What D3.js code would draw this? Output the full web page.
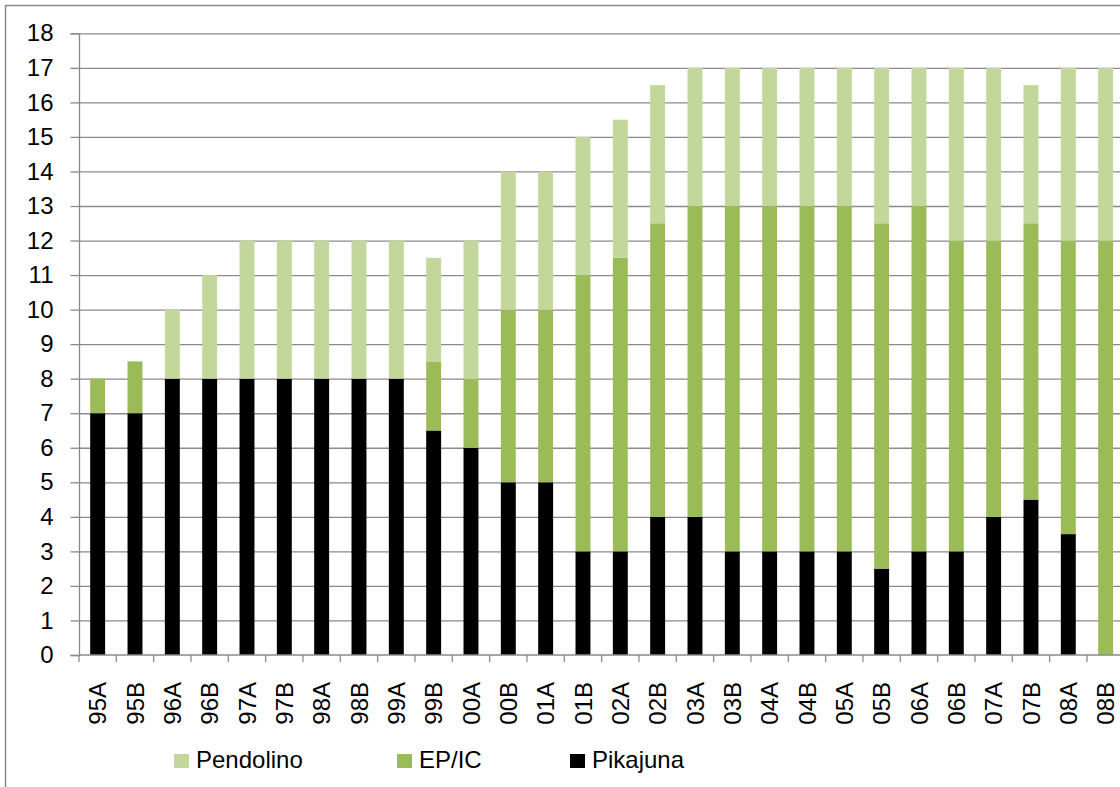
<!DOCTYPE html>
<html>
<head>
<meta charset="utf-8">
<script src="https://cdn.jsdelivr.net/npm/d3@7"></script>
<style>
  html, body { margin: 0; padding: 0; background: #fff; overflow: hidden; }
  svg { display: block; font-family: "Liberation Sans", Arial, sans-serif; }
</style>
</head>
<body>
<svg id="chart" width="1120" height="787"></svg>
<script>
// Half-year periods
const periods = ["95A","95B","96A","96B","97A","97B","98A","98B","99A","99B",
                 "00A","00B","01A","01B","02A","02B","03A","03B","04A","04B",
                 "05A","05B","06A","06B","07A","07B","08A","08B"];

// Train counts by type, stacked bottom to top
const pikajuna  = [7, 7, 8, 8, 8, 8, 8, 8, 8, 6.5, 6, 5, 5, 3, 3, 4, 4, 3, 3, 3, 3, 2.5, 3, 3, 4, 4.5, 3.5, 0];
const epic      = [1, 1.5, 0, 0, 0, 0, 0, 0, 0, 2, 2, 5, 5, 8, 8.5, 8.5, 9, 10, 10, 10, 10, 10, 10, 9, 8, 8, 8.5, 12];
const pendolino = [0, 0, 2, 3, 4, 4, 4, 4, 4, 3, 4, 4, 4, 4, 4, 4, 4, 4, 4, 4, 4, 4.5, 4, 5, 5, 4, 5, 5];

const yTicks = d3.range(0, 19);

const seriesKeys = ["Pikajuna", "EP/IC", "Pendolino"];
const seriesColors = { "Pikajuna": "#000000", "EP/IC": "#9bbb59", "Pendolino": "#c3d69b" };
const legendOrder = ["Pendolino", "EP/IC", "Pikajuna"];

const rows = periods.map((p, i) => ({
  period: p, "Pikajuna": pikajuna[i], "EP/IC": epic[i], "Pendolino": pendolino[i]
}));

const svg = d3.select("#chart");
const gridColor = "#8a8a8a";

// Outer chart frame
svg.append("path")
  .attr("d", "M5.5,790 V5.5 H1130")
  .attr("fill", "none").attr("stroke", gridColor).attr("stroke-width", 1.5);

const plotLeft = 79, plotTop = 33.3, plotBottom = 655, plotWidth = 1045.3;

const x = d3.scaleBand().domain(periods).range([plotLeft, plotLeft + plotWidth]).paddingInner(0.6).paddingOuter(0.3);
const xBoundary = d3.scaleLinear().domain([0, periods.length]).range([plotLeft, plotLeft + plotWidth]);
const y = d3.scaleLinear().domain([0, 18]).range([plotBottom, plotTop]);

// Horizontal gridlines and y axis
const yAxis = svg.append("g")
  .attr("transform", `translate(${plotLeft},0)`)
  .call(d3.axisLeft(y).tickValues(yTicks).tickSize(8.5).tickPadding(17).tickFormat(d3.format("d")));
yAxis.select(".domain").attr("stroke", gridColor).attr("stroke-width", 1.3);
yAxis.selectAll(".tick line").attr("stroke", gridColor).attr("stroke-width", 1.3);
yAxis.selectAll(".tick text").attr("font-size", 24).attr("fill", "#000")
  .attr("font-family", "'Liberation Sans', Arial, sans-serif");
yAxis.selectAll(".tick").filter(d => d > 0).append("line")
  .attr("x1", 0).attr("x2", plotWidth + 10)
  .attr("stroke", gridColor).attr("stroke-width", 1.3);

// Stacked bars
const stacked = d3.stack().keys(seriesKeys)(rows);
svg.append("g").selectAll("g")
  .data(stacked).join("g")
  .attr("fill", d => seriesColors[d.key])
  .selectAll("rect")
  .data(d => d.filter(s => s[1] - s[0] > 0))
  .join("rect")
  .attr("x", d => x(d.data.period))
  .attr("width", x.bandwidth())
  .attr("y", d => y(d[1]))
  .attr("height", d => y(d[0]) - y(d[1]));

// Category axis
const xg = svg.append("g");
xg.append("line")
  .attr("x1", plotLeft).attr("x2", plotLeft + plotWidth + 10)
  .attr("y1", y(0)).attr("y2", y(0))
  .attr("stroke", gridColor).attr("stroke-width", 1.5);
xg.selectAll("line.tick")
  .data(d3.range(0, periods.length + 1)).join("line")
  .attr("class", "tick")
  .attr("x1", d => xBoundary(d)).attr("x2", d => xBoundary(d))
  .attr("y1", y(0)).attr("y2", y(0) + 7)
  .attr("stroke", gridColor).attr("stroke-width", 1.3);
xg.selectAll("text")
  .data(periods).join("text")
  .attr("transform", d => `translate(${x(d) + x.bandwidth() / 2},682) rotate(-90)`)
  .attr("text-anchor", "end")
  .attr("dy", "0.36em")
  .attr("font-size", 24)
  .attr("fill", "#000")
  .text(d => d);

// Legend
const legendX = { "Pendolino": 174, "EP/IC": 397, "Pikajuna": 570 };
const legend = svg.append("g");
legendOrder.forEach(k => {
  legend.append("rect")
    .attr("x", legendX[k]).attr("y", 754)
    .attr("width", 15).attr("height", 14)
    .attr("fill", seriesColors[k]);
  legend.append("text")
    .attr("x", legendX[k] + 22).attr("y", 768)
    .attr("font-size", 24).attr("fill", "#000")
    .text(k);
});
</script>
</body>
</html>
